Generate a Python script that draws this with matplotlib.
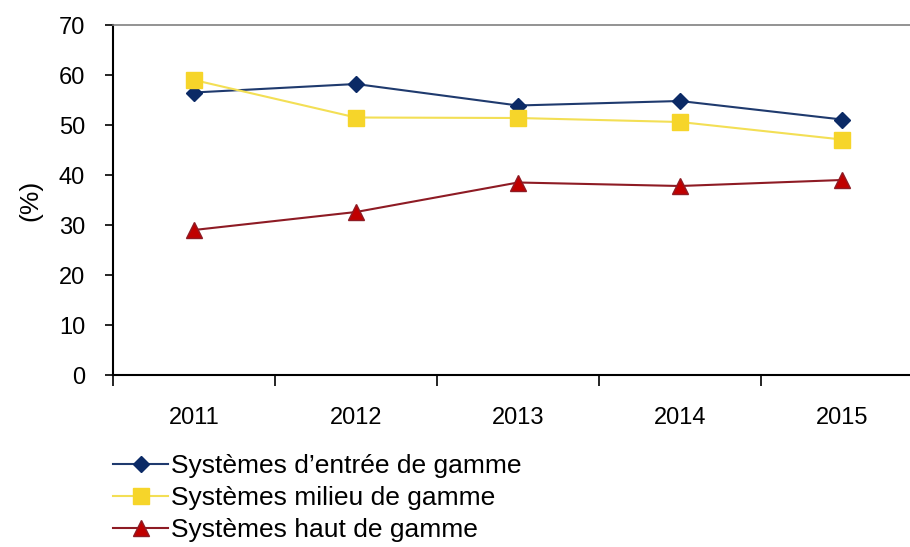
import matplotlib.pyplot as plt

plt.rcParams['font.family'] = ['Liberation Sans', 'DejaVu Sans']

years = ['2011', '2012', '2013', '2014', '2015']
entree = [56.5, 58.2, 53.9, 54.8, 51.1]
milieu = [59.0, 51.5, 51.4, 50.6, 47.1]
haut = [29.0, 32.6, 38.5, 37.8, 39.0]

fig = plt.figure(figsize=(9.1, 5.47), dpi=100)
ax = fig.add_axes([113 / 910, 172 / 547, 1 - 113 / 910, 350 / 547])

x = range(len(years))
ax.plot(x, entree, color='#1f3a6e', lw=1.5, marker='D', ms=8,
        mfc='#0b2a66', mec='#0b2a66', label='Systèmes d\u2019entrée de gamme')
ax.plot(x, milieu, color='#f3df55', lw=1.5, marker='s', ms=11,
        mfc='#f6d52a', mec='#f6d52a', label='Systèmes milieu de gamme')
ax.plot(x, haut, color='#8e1b24', lw=1.5, marker='^', ms=11,
        mfc='#c00000', mec='#8e1b24', label='Systèmes haut de gamme')

ax.set_yticks(range(0, 71, 10))
ax.set_xticks(list(x))
ax.set_xticklabels(years)
ax.set_xticks([i - 0.5 for i in range(6)], minor=True)
ax.set_ylim(0, 70)
ax.set_xlim(-0.5, 4.42)
ax.tick_params(axis='x', which='major', length=0, pad=23, labelsize=17)
ax.tick_params(axis='x', which='minor', length=8, width=1.2, direction='out')
ax.tick_params(axis='y', length=6, width=1.2, labelsize=17, pad=14)

ax.spines['right'].set_visible(False)
ax.spines['top'].set_color('#808080')
ax.spines['top'].set_linewidth(1.2)
ax.spines['left'].set_linewidth(1.5)
ax.spines['bottom'].set_linewidth(1.5)
ax.set_ylabel('(%)', fontsize=19, labelpad=12)

fig.legend(loc='upper left', bbox_to_anchor=(113 / 910, 1 - 454 / 547),
           frameon=False, fontsize=19, handlelength=2.1, handletextpad=0.1,
           labelspacing=0.3, borderaxespad=0, borderpad=0)

fig.savefig('out.png', dpi=100)
